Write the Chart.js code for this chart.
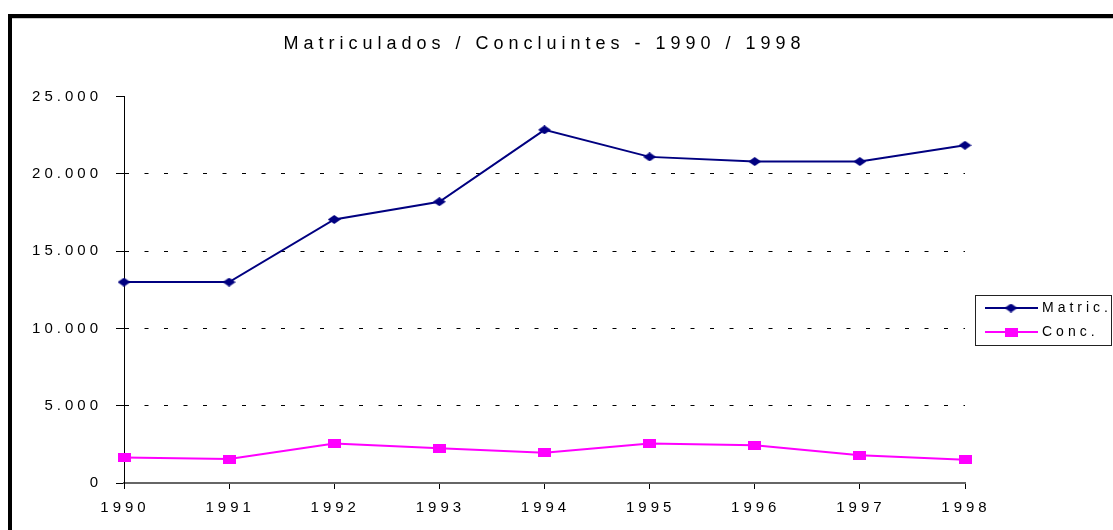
<!DOCTYPE html>
<html>
<head>
<meta charset="utf-8">
<title>Matriculados / Concluintes</title>
<script src="https://cdn.jsdelivr.net/npm/chart.js@4/dist/chart.umd.min.js"></script>
<style>
    html, body { margin: 0; padding: 0; background: #fff; overflow: hidden; }
    canvas { display: block; }
</style>
</head>
<body>
<canvas id="chart" width="1113" height="530"></canvas>
<script>
const years = ['1990', '1991', '1992', '1993', '1994', '1995', '1996', '1997', '1998'];
const matric = [13000, 13000, 17050, 18200, 22850, 21100, 20800, 20800, 21850];
const conc = [1650, 1550, 2550, 2250, 1950, 2550, 2450, 1800, 1500];
const yTicks = [0, 5000, 10000, 15000, 20000, 25000];

const FONT = '"Liberation Sans", Arial, sans-serif';
const NAVY = '#000080';
const MAGENTA = '#ff00ff';

// marker images, a bit wider than tall like the original
const makeMarker = (color, shape) => {
    const c = document.createElement('canvas');
    c.width = 13;
    c.height = 9;
    const g = c.getContext('2d');
    g.fillStyle = color;
    if (shape === 'diamond') {
        g.beginPath();
        g.moveTo(0, 4.5);
        g.lineTo(6.5, 0);
        g.lineTo(13, 4.5);
        g.lineTo(6.5, 9);
        g.closePath();
        g.fill();
    } else {
        g.fillRect(0, 0, 13, 9);
    }
    return c;
};
const diamond = makeMarker(NAVY, 'diamond');
const square = makeMarker(MAGENTA, 'square');

const fmt = v => v === 0 ? '0' : v.toLocaleString('de-DE');

// wide letter spacing like the old spreadsheet chart
const spacing = {
    id: 'spacing',
    afterInit: chart => {
        const title = chart.titleBlock;
        if (!title) return;
        const draw = title.draw.bind(title);
        title.draw = () => {
            chart.ctx.letterSpacing = '5px';
            draw();
            chart.ctx.letterSpacing = '4px';
        };
    },
    beforeUpdate: chart => { chart.ctx.letterSpacing = '4px'; },
    beforeDraw: chart => {
        const ctx = chart.ctx;
        ctx.letterSpacing = '4px';
        // outer frame
        ctx.save();
        ctx.fillStyle = '#000';
        ctx.fillRect(8, 14, chart.width, 4);
        ctx.fillRect(8, 14, 4, chart.height);
        ctx.fillStyle = '#c8c8c8';
        ctx.fillRect(12, 18, chart.width, 1);
        ctx.restore();
    }
};

const boxLegend = {
    id: 'boxLegend',
    afterDraw: chart => {
        const ctx = chart.ctx;
        ctx.save();
        ctx.strokeStyle = '#222';
        ctx.lineWidth = 1;
        ctx.strokeRect(975.5, 295.5, 136, 50);
        ctx.font = '14px ' + FONT;
        ctx.letterSpacing = '4px';
        ctx.textBaseline = 'middle';
        ctx.fillStyle = '#000';
        chart.data.datasets.forEach((ds, i) => {
            const y = 308 + i * 24;
            ctx.strokeStyle = ds.borderColor;
            ctx.lineWidth = 2;
            ctx.beginPath();
            ctx.moveTo(985, y);
            ctx.lineTo(1038, y);
            ctx.stroke();
            const img = ds.pointStyle;
            ctx.drawImage(img, 1011 - img.width / 2, y - img.height / 2);
            ctx.fillText(ds.label, 1042, y);
        });
        ctx.restore();
    }
};

new Chart(document.getElementById('chart'), {
    type: 'line',
    data: {
        labels: years,
        datasets: [
            { label: 'Matric.', data: matric, borderColor: NAVY, backgroundColor: NAVY, borderWidth: 2, pointStyle: diamond, pointRadius: 6, clip: false },
            { label: 'Conc.', data: conc, borderColor: MAGENTA, backgroundColor: MAGENTA, borderWidth: 2, pointStyle: square, pointRadius: 6, clip: false }
        ]
    },
    options: {
        responsive: false,
        animation: false,
        layout: { padding: { left: 0, right: 148, top: 0, bottom: 0 } },
        plugins: {
            legend: { display: false },
            tooltip: { enabled: false },
            title: {
                display: true,
                text: 'Matriculados / Concluintes - 1990 / 1998',
                fullSize: false,
                color: '#000',
                font: { family: FONT, size: 18, weight: 'normal' },
                padding: { top: 33, bottom: 42 }
            }
        },
        scales: {
            x: {
                offset: false,
                afterFit: s => { s.height = 47; },
                grid: { drawOnChartArea: false, tickLength: 6, tickColor: '#000' },
                border: { color: '#666', width: 2 },
                ticks: { color: '#000', font: { family: FONT, size: 15 }, padding: 10, labelOffset: 1, maxRotation: 0 }
            },
            y: {
                min: 0,
                max: 25000,
                afterFit: s => { s.width = 124; },
                afterBuildTicks: s => { s.ticks = yTicks.map(v => ({ value: v })); },
                grid: {
                    color: c => (c.tick && (c.tick.value === 0 || c.tick.value === 25000)) ? 'rgba(0,0,0,0)' : '#000',
                    tickColor: '#000',
                    tickLength: 8,
                    lineWidth: 1
                },
                border: { color: '#000', width: 1, dash: [4, 15.5] },
                ticks: { color: '#000', font: { family: FONT, size: 15 }, padding: 14, callback: v => fmt(v) }
            }
        }
    },
    plugins: [spacing, boxLegend]
});
</script>
</body>
</html>
